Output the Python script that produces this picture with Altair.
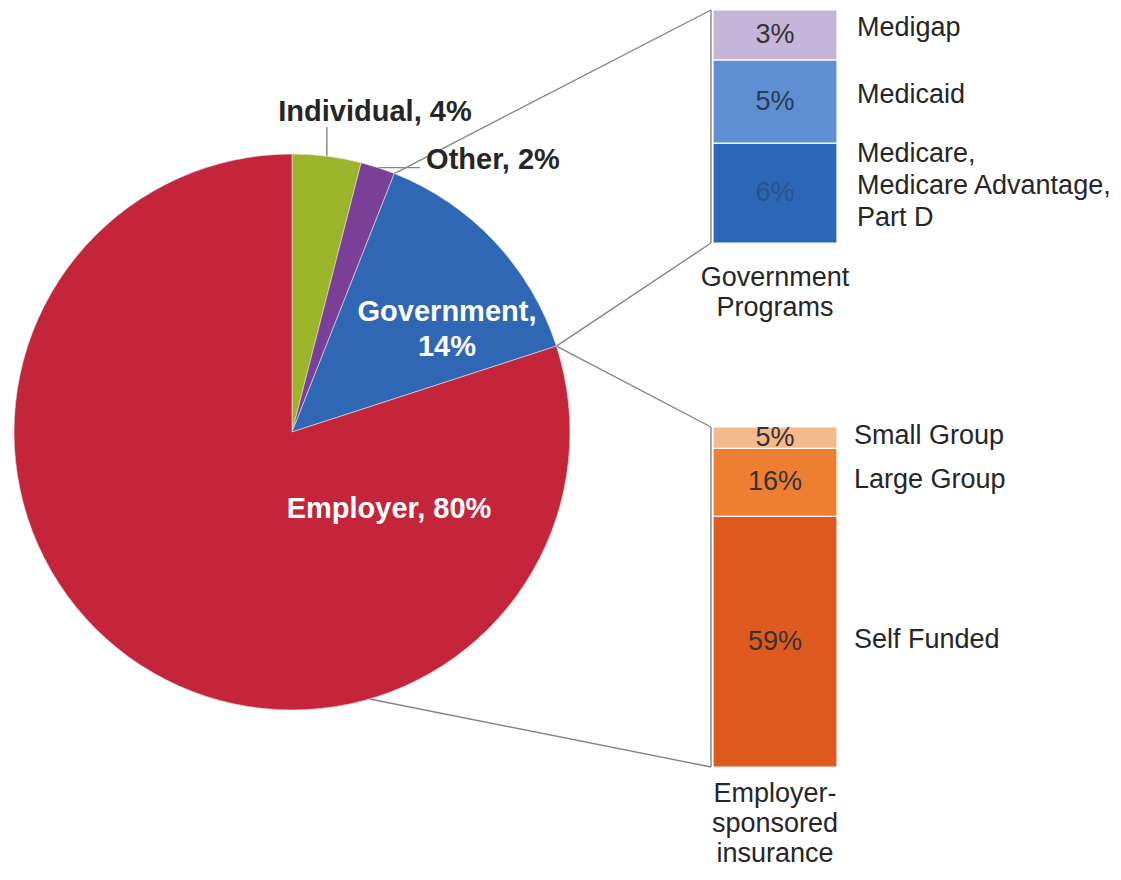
import math
import altair as alt
import pandas as pd

# ---------------- data ----------------
pie_categories = ["Individual", "Other", "Government", "Employer"]
pie_values = [4, 2, 14, 80]

gov_categories = ["Medicare,\nMedicare Advantage,\nPart D", "Medicaid", "Medigap"]  # bottom -> top
gov_values = [6, 5, 3]

emp_categories = ["Self Funded", "Large Group", "Small Group"]  # bottom -> top
emp_values = [59, 16, 5]

gov_title = "Government\nPrograms"
emp_title = "Employer-\nsponsored\ninsurance"

# ---------------- styles / layout ----------------
FONT = "Liberation Sans"
W, H = 1105, 864
CX, CY, R = 284, 424, 278
BAR_X0, BAR_X1 = 705, 829
BAR_MID = (BAR_X0 + BAR_X1) / 2
GOV_TOP, GOV_BOTTOM = 2, 235
EMP_TOP, EMP_BOTTOM = 419, 759
LINE_GREY = "#858585"
TEXT_DARK = "#262626"
REG_SIZE = 27
BOLD_SIZE = 29
LH = 32

pie_colors = {"Individual": "#9CB42C", "Other": "#7A3F96", "Government": "#2F67B4", "Employer": "#C5253A"}
gov_colors = ["#2D66B6", "#5F8FD2", "#C4B5D9"]
emp_colors = ["#DF5A1E", "#EE7E32", "#F5B98C"]
gov_pct_colors = ["#29518E", "#2B3A55", "#333333"]
emp_pct_colors = ["#333333", "#333333", "#333333"]

pie_label_pos = {  # first-line centre (plot px)
    "Individual": (367, 104),
    "Other": (485, 152),
    "Government": (439, 304),
    "Employer": (381, 501),
}
pie_label_color = {"Individual": TEXT_DARK, "Other": TEXT_DARK, "Government": "white", "Employer": "white"}


def edge_point(frac, r=R):
    a = 2 * math.pi * frac
    return CX + r * math.sin(a), CY - r * math.cos(a)


# ---------------- tables ----------------
total = sum(pie_values)
pie_df = pd.DataFrame({"cat": pie_categories, "value": pie_values, "idx": range(len(pie_values))})

lab_rows = []
for c, v in zip(pie_categories, pie_values):
    txt = f"{c},\n{v}%" if c == "Government" else f"{c}, {v}%"
    px, py = pie_label_pos[c]
    lab_rows.append({"text": txt, "px": px, "py": py, "tc": pie_label_color[c]})
lab_df = pd.DataFrame(lab_rows)


def stack_df(cats, vals, pct_colors, seg_colors, ppu, lift):
    rows, cum = [], 0
    for c, v, pc, sc in zip(cats, vals, pct_colors, seg_colors):
        nl = c.count("\n") + 1
        mid = cum + v / 2
        rows.append({"cat": c, "value": v, "start": cum, "end": cum + v,
                     "mid": mid, "ly": mid + ((nl - 1) * LH / 2 + lift) / ppu,
                     "pct": f"{v}%", "tc": pc, "sc": sc})
        cum += v
    return pd.DataFrame(rows)


gov_ppu = (GOV_BOTTOM - GOV_TOP) / sum(gov_values)
emp_ppu = (EMP_BOTTOM - EMP_TOP) / sum(emp_values)
gov_df = stack_df(gov_categories, gov_values, gov_pct_colors, gov_colors, gov_ppu, 7)
emp_df = stack_df(emp_categories, emp_values, emp_pct_colors, emp_colors, emp_ppu, 2)

# cumulative fractions of the pie
cum = []
s = 0
for v in pie_values:
    cum.append((s / total, (s + v) / total))
    s += v
gov_start, gov_end = cum[2]
ind_mid = sum(cum[0]) / 2
oth_mid = sum(cum[1]) / 2

p_gs = edge_point(gov_start)
p_ge = edge_point(gov_end)
p_bot = edge_point(163.8 / 360)
p_ind = edge_point(ind_mid)
p_oth = edge_point(oth_mid)
BRK_X = BAR_X0 - 2

lines = [
    (p_gs[0], p_gs[1], BRK_X, GOV_TOP),
    (p_ge[0], p_ge[1], BRK_X, GOV_BOTTOM),
    (p_ge[0], p_ge[1], BRK_X, EMP_TOP),
    (p_bot[0], p_bot[1], BRK_X, EMP_BOTTOM),
    (BRK_X, GOV_TOP, BRK_X, GOV_BOTTOM),
    (BRK_X, EMP_TOP, BRK_X, EMP_BOTTOM),
    (p_ind[0], p_ind[1], p_ind[0], 119),
    (p_oth[0], p_oth[1], 412, p_oth[1]),
]
line_df = pd.DataFrame(lines, columns=["x", "y", "x2", "y2"])

title_df = pd.DataFrame({"text": [gov_title, emp_title], "px": [BAR_MID, BAR_MID], "py": [270, 786]})

# ---------------- layers ----------------
pie = alt.Chart(pie_df).mark_arc(radius=R, stroke="#e6e6e6", strokeWidth=0.6).encode(
    theta=alt.Theta("value:Q", stack=True),
    order=alt.Order("idx:Q"),
    color=alt.Color("cat:N", scale=alt.Scale(domain=list(pie_colors.keys()), range=list(pie_colors.values())), legend=None),
    x=alt.value(CX),
    y=alt.value(CY),
)

connectors = alt.Chart(line_df).mark_rule(color=LINE_GREY, strokeWidth=1.4).encode(
    x=alt.X("x:Q", scale=None), y=alt.Y("y:Q", scale=None), x2="x2:Q", y2="y2:Q"
)

pie_labels = alt.Chart(lab_df).mark_text(
    font=FONT, fontSize=BOLD_SIZE, fontWeight="bold", align="center", baseline="middle", lineBreak="\n", lineHeight=35
).encode(
    x=alt.X("px:Q", scale=None), y=alt.Y("py:Q", scale=None), text="text:N",
    color=alt.Color("tc:N", scale=None),
)


def bar_layers(df, domain_max, top, bottom, label_x):
    ysc = alt.Scale(domain=[0, domain_max], range=[bottom, top])
    bars = alt.Chart(df).mark_bar(stroke="white", strokeWidth=1.2).encode(
        x=alt.value(BAR_X0), x2=alt.value(BAR_X1),
        y=alt.Y("start:Q", scale=ysc, axis=None), y2="end:Q",
        color=alt.Color("sc:N", scale=None),
    )
    pct = alt.Chart(df).mark_text(font=FONT, fontSize=REG_SIZE, align="center", baseline="middle").encode(
        x=alt.value(BAR_MID), y=alt.Y("mid:Q", scale=ysc, axis=None), text="pct:N",
        color=alt.Color("tc:N", scale=None),
    )
    lab = alt.Chart(df).mark_text(
        font=FONT, fontSize=REG_SIZE, align="left", baseline="middle", lineBreak="\n", lineHeight=LH,
        color=TEXT_DARK,
    ).encode(x=alt.value(label_x), y=alt.Y("ly:Q", scale=ysc, axis=None), text="cat:N")
    return [bars, pct, lab]


gov_layers = bar_layers(gov_df, sum(gov_values), GOV_TOP, GOV_BOTTOM, 849)
emp_layers = bar_layers(emp_df, sum(emp_values), EMP_TOP, EMP_BOTTOM, 846)

titles = alt.Chart(title_df).mark_text(
    font=FONT, fontSize=REG_SIZE, align="center", baseline="middle", lineBreak="\n", lineHeight=30, color=TEXT_DARK
).encode(x=alt.X("px:Q", scale=None), y=alt.Y("py:Q", scale=None), text="text:N")

chart = alt.layer(
    connectors, pie, pie_labels, *gov_layers, *emp_layers, titles
).resolve_scale(
    x="independent", y="independent", color="independent", theta="independent"
).properties(
    width=W, height=H, padding=0, autosize=alt.AutoSizeParams(type="none")
).configure_view(stroke=None)

chart.save("out.html", embed_options={"renderer": "svg", "actions": False})
